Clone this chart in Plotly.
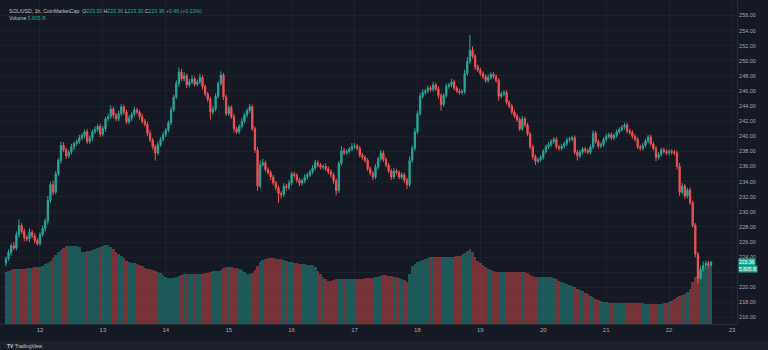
import plotly.graph_objects as go
import pandas as pd

# ---------------- data (hourly SOL/USD) ----------------
start_time = "2024-12-11 11:00"

close_d11 = [223.8, 224.6, 225.5, 225.2, 227.0, 228.2, 227.4, 226.6, 226.4, 227.3, 226.8, 226.2, 225.8]
close_d12 = [227.0, 227.8, 228.8, 231.5, 233.6, 232.6, 235.0, 236.8, 238.8, 238.2, 237.4, 237.9,
             238.6, 239.0, 239.3, 239.8, 240.1, 240.6, 239.3, 239.8, 240.6, 240.9, 241.3, 240.3]
close_d13 = [241.0, 242.3, 242.6, 243.6, 242.8, 242.3, 243.0, 243.9, 243.2, 241.9, 242.4, 242.9,
             243.5, 243.2, 242.6, 242.0, 241.6, 240.4, 239.5, 238.6, 237.8, 238.9, 239.6, 240.2]
close_d14 = [240.8, 241.8, 243.5, 245.2, 247.0, 248.5, 247.6, 248.0, 246.8, 247.2, 247.6, 246.9,
             247.2, 247.8, 246.6, 245.6, 244.9, 243.2, 243.6, 245.3, 247.0, 248.1, 245.2, 243.0]
close_d15 = [243.8, 242.6, 241.0, 240.6, 241.3, 242.0, 242.8, 243.4, 243.9, 241.0, 238.2, 233.4,
             236.2, 236.5, 235.6, 235.2, 234.6, 233.8, 233.2, 232.4, 232.3, 233.4, 233.2, 233.8]
close_d16 = [235.0, 234.8, 234.2, 233.8, 234.1, 234.6, 234.9, 235.3, 235.8, 236.5, 236.2, 235.9,
             236.0, 235.7, 235.3, 234.9, 234.1, 232.8, 236.4, 238.1, 237.8, 238.0, 238.3, 238.6]
close_d17 = [238.7, 238.4, 237.5, 237.2, 236.8, 235.7, 235.1, 234.6, 235.9, 237.0, 237.8, 236.9,
             236.2, 235.4, 234.6, 235.4, 235.2, 234.6, 234.9, 234.2, 233.6, 236.8, 238.4, 240.6]
close_d18 = [243.0, 245.3, 245.8, 246.0, 246.4, 246.2, 246.8, 246.3, 245.4, 244.2, 245.4, 246.6,
             246.8, 247.2, 246.4, 246.0, 245.8, 245.9, 248.3, 249.9, 251.4, 250.6, 249.2, 248.8]
close_d19 = [248.3, 247.9, 247.4, 247.8, 248.2, 247.9, 247.4, 245.3, 245.6, 245.8, 244.5, 244.0,
             243.2, 242.7, 242.2, 241.0, 242.3, 241.5, 240.3, 238.6, 237.3, 236.7, 236.9, 237.2]
close_d20 = [238.0, 238.6, 238.9, 239.3, 239.6, 238.6, 238.4, 238.7, 239.0, 239.5, 239.6, 239.8,
             237.9, 237.4, 237.9, 238.3, 238.1, 237.9, 238.6, 240.4, 239.3, 238.7, 238.9, 239.6]
close_d21 = [240.0, 240.2, 239.8, 240.1, 240.6, 240.9, 241.2, 241.5, 240.7, 240.5, 240.0, 239.6,
             238.6, 238.4, 238.8, 239.4, 239.9, 239.0, 238.4, 237.2, 237.6, 238.2, 238.0, 237.8]
close_d22 = [238.0, 237.9, 237.8, 236.0, 232.6, 233.4, 232.1, 232.9, 231.2, 228.2, 224.4, 221.2,
             222.4, 222.9, 223.2, 222.9, 223.36]
first_open = 223.2

wick_up = [0.3,0.4,0.3,0.5,0.4,0.8,0.3,0.4,0.3,0.5,0.3,0.4,0.3,
    0.3,0.4,0.3,0.6,0.4,0.5,0.4,0.3,0.5,0.4,0.3,0.3,0.4,0.3,0.3,0.4,0.3,0.3,0.4,0.3,0.3,0.4,0.3,0.4,
    0.4,0.3,0.4,0.5,0.3,0.3,0.4,0.4,0.3,0.3,0.4,0.3,0.4,0.3,0.3,0.4,0.3,0.3,0.4,0.3,0.3,0.4,0.3,0.4,
    0.3,0.3,0.4,0.3,0.4,0.6,0.4,0.5,0.3,0.4,0.5,0.3,0.3,0.5,0.3,0.3,0.3,0.3,0.4,0.4,0.3,0.5,0.3,0.3,
    0.3,0.3,0.4,0.3,0.3,0.4,0.3,0.3,0.4,0.3,0.3,0.4,0.6,0.5,0.3,0.3,0.3,0.3,0.3,0.3,0.3,0.4,0.3,0.4,
    0.3,0.3,0.3,0.3,0.3,0.4,0.3,0.3,0.4,0.4,0.3,0.3,0.3,0.4,0.3,0.3,0.3,0.3,0.3,0.6,0.4,0.3,0.3,0.5,
    0.4,0.3,0.3,0.3,0.3,0.3,0.3,0.3,0.4,0.3,0.4,0.3,0.3,0.3,0.3,0.4,0.3,0.3,0.3,0.3,0.3,0.5,0.4,0.5,
    0.4,0.5,0.4,0.3,0.3,0.3,0.4,0.3,0.3,0.3,0.3,0.4,0.3,0.4,0.3,0.3,0.3,0.3,0.5,0.6,2.0,0.5,0.3,0.3,
    0.3,0.3,0.3,0.4,0.3,0.3,0.3,0.3,0.3,0.3,0.3,0.3,0.3,0.3,0.3,0.3,0.4,0.3,0.3,0.3,0.3,0.3,0.3,0.3,
    0.3,0.3,0.3,0.3,0.3,0.3,0.3,0.3,0.3,0.3,0.3,0.3,0.3,0.3,0.3,0.3,0.3,0.3,0.3,0.4,0.3,0.3,0.3,0.3,
    0.3,0.3,0.3,0.3,0.3,0.3,0.3,0.3,0.3,0.3,0.3,0.3,0.3,0.3,0.3,0.3,0.3,0.3,0.3,0.3,0.3,0.3,0.3,0.3,
    0.3,0.3,0.3,0.3,0.5,0.4,0.3,0.3,0.3,0.3,0.3,0.3,0.4,0.5,0.3,0.3,0.0]
wick_dn = [0.4,0.3,0.4,0.3,0.3,0.4,0.3,0.5,0.3,0.4,0.3,0.4,0.3,
    0.3,0.3,0.4,0.5,0.3,0.4,0.3,0.3,0.4,0.3,0.4,0.3,0.3,0.4,0.3,0.3,0.3,0.4,0.3,0.3,0.4,0.3,0.3,0.4,
    0.3,0.4,0.3,0.3,0.4,0.3,0.3,0.3,0.4,0.3,0.3,0.4,0.3,0.3,0.4,0.3,0.3,0.4,0.3,0.4,1.0,0.3,0.3,0.3,
    0.3,0.3,0.3,0.3,0.3,0.4,0.3,0.3,0.4,0.3,0.3,0.3,0.3,0.3,0.4,0.3,0.4,1.0,0.3,0.3,0.3,0.3,0.4,0.3,
    0.3,0.3,0.5,0.3,0.3,0.3,0.3,0.3,0.3,0.3,0.4,0.6,0.3,0.3,0.3,0.3,0.4,0.3,0.4,1.2,0.5,0.3,0.4,0.3,
    0.3,0.3,0.3,0.4,0.3,0.3,0.3,0.3,0.3,0.3,0.3,0.3,0.3,0.3,0.3,0.4,0.4,0.6,0.3,0.3,0.3,0.3,0.3,0.3,
    0.3,0.3,0.3,0.3,0.3,0.3,0.3,0.4,0.3,0.3,0.3,0.3,0.3,0.3,0.4,0.3,0.3,0.3,0.3,0.4,0.6,0.3,0.3,0.3,
    0.3,0.3,0.3,0.3,0.3,0.3,0.3,0.3,0.4,0.8,0.3,0.3,0.3,0.3,0.3,0.3,0.3,0.3,0.3,0.3,0.3,0.3,0.4,0.3,
    0.3,0.3,0.3,0.3,0.3,0.3,0.3,0.6,0.3,0.3,0.3,0.3,0.3,0.3,0.3,0.3,0.3,0.3,0.3,0.3,0.4,0.5,0.3,0.3,
    0.3,0.3,0.3,0.3,0.3,0.3,0.3,0.3,0.3,0.3,0.3,0.3,0.3,0.6,0.3,0.3,0.3,0.3,0.3,0.3,0.3,0.3,0.3,0.3,
    0.3,0.3,0.3,0.3,0.3,0.3,0.3,0.3,0.3,0.3,0.3,0.3,0.3,0.3,0.3,0.3,0.3,0.3,0.3,0.5,0.3,0.3,0.3,0.3,
    0.3,0.3,0.3,0.4,0.5,0.3,0.4,0.3,0.3,0.3,0.4,0.7,0.3,0.3,0.3,0.3,0.0]

# volume, billions (24h rolling volume from CoinMarketCap)
volume_b = [5.03,5.13,5.23,5.32,5.32,5.35,5.34,5.33,5.40,5.42,5.44,5.50,5.52,
    5.52,5.61,5.81,5.90,6.10,6.39,6.68,6.97,7.16,7.36,7.55,7.55,7.56,7.54,7.55,7.45,6.97,6.97,7.07,7.07,7.16,7.26,7.36,7.45,
    7.55,7.65,7.65,7.45,7.26,6.97,6.78,6.58,6.39,6.10,6.00,5.90,5.90,5.81,5.71,5.61,5.42,5.32,5.32,5.23,5.13,5.03,4.94,4.74,
    4.55,4.45,4.45,4.46,4.55,4.65,4.74,4.84,4.84,4.83,4.84,4.85,4.84,4.84,4.85,4.94,4.94,5.03,5.13,5.13,5.14,5.23,5.42,5.52,
    5.52,5.52,5.42,5.42,5.32,5.23,5.03,4.84,4.84,4.94,5.23,5.61,6.00,6.20,6.29,6.39,6.39,6.38,6.29,6.29,6.29,6.20,6.10,6.00,
    6.00,5.90,5.90,5.81,5.81,5.80,5.71,5.71,5.71,5.52,5.13,4.84,4.55,4.36,4.16,4.16,4.26,4.36,4.36,4.35,4.36,4.36,4.35,4.36,
    4.36,4.35,4.36,4.36,4.45,4.45,4.46,4.45,4.55,4.55,4.65,4.74,4.74,4.65,4.64,4.55,4.55,4.45,4.36,4.26,4.07,4.84,5.61,5.81,
    6.00,6.10,6.20,6.29,6.39,6.49,6.48,6.49,6.48,6.49,6.49,6.48,6.49,6.49,6.48,6.58,6.58,6.68,6.87,7.07,7.26,6.97,6.49,6.10,
    5.90,5.71,5.52,5.32,5.23,5.13,5.03,5.04,5.03,5.03,5.04,5.03,5.03,5.04,5.03,5.03,5.04,5.03,4.94,4.74,4.65,4.55,4.55,4.55,
    4.55,4.55,4.54,4.55,4.45,4.36,4.16,4.07,3.97,3.87,3.78,3.68,3.58,3.39,3.29,3.19,3.00,2.90,2.71,2.61,2.42,2.32,2.23,2.13,
    2.13,2.07,2.05,2.04,2.04,2.03,2.04,2.05,2.05,2.04,2.03,2.04,2.05,2.04,2.03,1.96,1.94,1.94,1.93,1.94,1.95,1.94,2.00,2.05,
    2.13,2.23,2.42,2.61,2.71,2.81,2.90,3.10,3.39,4.07,4.55,4.94,5.13,5.32,5.52,5.61,5.805]

price_ticks = [216, 218, 220, 222, 224, 226, 228, 230, 232, 234, 236, 238, 240,
               242, 244, 246, 248, 250, 252, 254, 256]
# 222.00 sits behind the last-value labels in the reference, so its text is hidden
hidden_price_ticks = [222]
day_labels = ["12", "13", "14", "15", "16", "17", "18", "19", "20", "21", "22", "23"]
day_dates = ["2024-12-%s" % d for d in day_labels]

header_pair = "SOL/USD, 1h, CoinMarketCap"
ohlc_text = [("O", "223.30"), ("H", "223.36"), ("L", "223.30"), ("C", "223.36")]
change_text = "+0.46 (+0.21%)"
volume_text = "5.805 B"
last_price_text = "223.36"

# ---------------- build ----------------
closes = (close_d11 + close_d12 + close_d13 + close_d14 + close_d15 + close_d16 +
          close_d17 + close_d18 + close_d19 + close_d20 + close_d21 + close_d22)
n = len(closes)
opens = [first_open] + closes[:-1]
highs = [max(o, c) + w for o, c, w in zip(opens, closes, wick_up)]
lows = [min(o, c) - w for o, c, w in zip(opens, closes, wick_dn)]
times = pd.date_range(start_time, periods=n, freq="h")

UP = "#26a69a"
DN = "#ef5350"
BG = "#151924"
TXT = "#a3a6af"

vol_colors = ["rgba(38,166,154,0.45)" if c >= o else "rgba(239,83,80,0.45)"
              for o, c in zip(opens, closes)]
price_ticktext = ["" if t in hidden_price_ticks else "%.2f" % t for t in price_ticks]

fig = go.Figure()
fig.add_trace(go.Bar(x=times, y=volume_b[:n], marker=dict(color=vol_colors, line=dict(width=0)),
                     yaxis="y2", hoverinfo="skip", showlegend=False))
fig.add_trace(go.Candlestick(
    x=times, open=opens, high=highs, low=lows, close=closes,
    increasing=dict(line=dict(color=UP, width=1), fillcolor=UP),
    decreasing=dict(line=dict(color=DN, width=1), fillcolor=DN),
    whiskerwidth=0, showlegend=False))

t0 = pd.Timestamp(start_time)
x_range = [t0 - pd.Timedelta(hours=2.25), t0 + pd.Timedelta(hours=278.9)]

fig.update_layout(
    width=768, height=350,
    margin=dict(l=0, r=31, t=0, b=26),
    paper_bgcolor=BG, plot_bgcolor=BG,
    bargap=0,
    font=dict(family="Liberation Sans, Arial, sans-serif", size=6, color=TXT),
    xaxis=dict(range=x_range, rangeslider=dict(visible=False),
               tickvals=day_dates, ticktext=day_labels, ticks="",
               tickfont=dict(size=6, color=TXT),
               showgrid=True, gridcolor="rgba(255,255,255,0.03)", gridwidth=1,
               showline=True, linecolor="#262a35", zeroline=False),
    yaxis=dict(side="right", range=[215.14, 258.05], tickvals=price_ticks,
               ticktext=price_ticktext, ticks="", tickfont=dict(size=5.5, color=TXT),
               showgrid=True, gridcolor="rgba(255,255,255,0.03)", gridwidth=1,
               showline=True, linecolor="#262a35", zeroline=False),
    yaxis2=dict(overlaying="y", range=[0, 31.35], visible=False, showgrid=False),
)

# bottom strip with TradingView mark
fig.add_shape(type="rect", xref="paper", yref="paper", x0=-0.01, x1=1.06,
              y0=-26 / 324, y1=-17 / 324, fillcolor="#1d2029", line=dict(width=0), layer="below")
fig.add_annotation(xref="paper", yref="paper", x=5 / 737, y=-21.5 / 324, xanchor="left",
                   yanchor="middle", showarrow=False,
                   text="<b>TV</b> TradingView", font=dict(size=5, color="#c5c8d0"))

# header legend
teal = "#22ab94"
line1 = header_pair + " "
for k, v in ohlc_text:
    line1 += " %s<span style='color:%s'>%s</span>" % (k, teal, v)
line1 += " <span style='color:%s'>%s</span>" % (teal, change_text)
fig.add_annotation(xref="paper", yref="paper", x=7 / 737, y=1 - 11 / 324, xanchor="left",
                   yanchor="middle", showarrow=False, text=line1,
                   font=dict(size=5.2, color="#c0c3cb"))
fig.add_annotation(xref="paper", yref="paper", x=7 / 737, y=1 - 18 / 324, xanchor="left",
                   yanchor="middle", showarrow=False,
                   text="Volume <span style='color:%s'>%s</span>" % (teal, volume_text),
                   font=dict(size=5.2, color="#c0c3cb"))

# last price and volume labels on the price scale (stacked)
fig.add_annotation(xref="paper", yref="y", x=1.0, y=closes[-1], xanchor="left", yanchor="middle",
                   showarrow=False, text=last_price_text, bgcolor=teal, borderpad=0,
                   xshift=1, font=dict(size=5, color="#ffffff"))
fig.add_annotation(xref="paper", yref="y", x=1.0, y=closes[-1], xanchor="left",
                   yanchor="middle", showarrow=False, text=volume_text, bgcolor=teal, borderpad=0,
                   xshift=1, yshift=-7, font=dict(size=5, color="#ffffff"))

fig.write_html("out.html")
